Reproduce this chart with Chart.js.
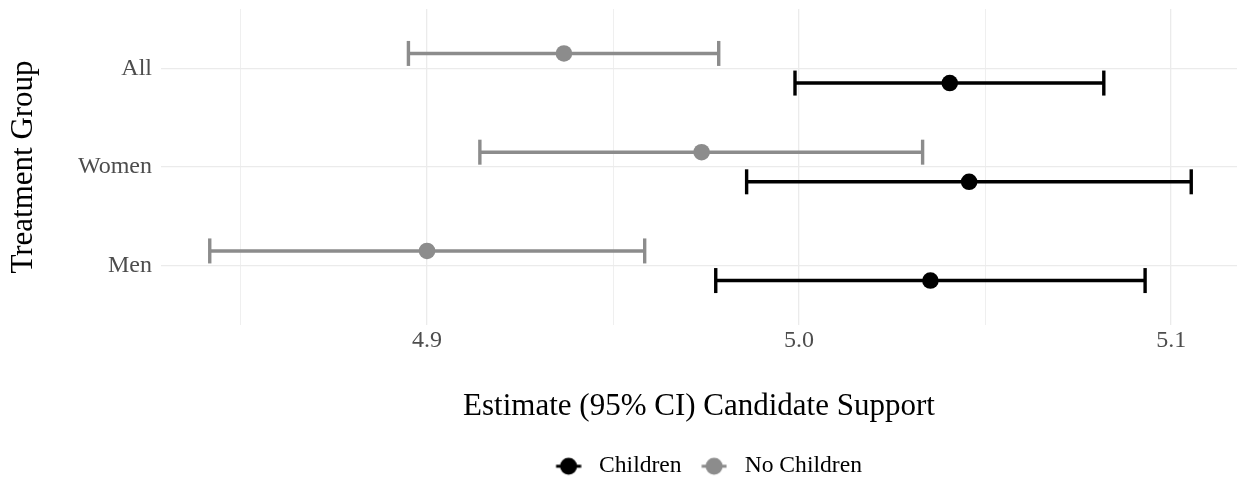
<!DOCTYPE html>
<html>
<head>
<meta charset="utf-8">
<script src="https://cdn.jsdelivr.net/npm/chart.js@4/dist/chart.umd.min.js"></script>
<style>
  html, body { margin: 0; padding: 0; background: #ffffff; }
  #wrap { width: 1239px; height: 481px; }
</style>
</head>
<body>
<div id="wrap"><canvas id="c" width="1239" height="481"></canvas></div>
<script>
// ---- data ----
const groups = ['All', 'Women', 'Men'];            // top to bottom
const seriesNames = ['Children', 'No Children'];
const childrenEst = [5.0405, 5.0457, 5.0353];
const childrenLo  = [4.9989, 4.9859, 4.9776];
const childrenHi  = [5.0819, 5.1054, 5.0930];
const noChildEst  = [4.9368, 4.9738, 4.9000];
const noChildLo   = [4.8950, 4.9142, 4.8416];
const noChildHi   = [4.9784, 5.0332, 4.9585];
const xMajorTicks = [4.9, 5.0, 5.1];
const xTickLabels = ['4.9', '5.0', '5.1'];
const xMinorTicks = [4.85, 4.95, 5.05];
const dodge = 0.15;

const BLACK = '#000000';
const GREY = '#8c8c8c';
const FONT = "'Liberation Serif', 'DejaVu Serif', serif";

function groupPos(i) { return groups.length - i; }

function pointData(est, off) {
  return est.map((v, i) => ({ x: v, y: groupPos(i) + off }));
}
function barData(lo, hi, off) {
  const out = [];
  lo.forEach((l, i) => {
    out.push({ x: l, y: groupPos(i) + off });
    out.push({ x: hi[i], y: groupPos(i) + off });
    out.push({ x: null, y: null });
  });
  return out;
}

// legend key: circle with a short line through it (offset inside the canvas)
function legendMarker(color) {
  const cv = document.createElement('canvas');
  cv.width = 40; cv.height = 20;
  const g = cv.getContext('2d');
  const cx = 26.9;
  g.strokeStyle = color; g.lineWidth = 3;
  g.beginPath(); g.moveTo(cx - 12.5, 10); g.lineTo(cx + 12.5, 10); g.stroke();
  g.fillStyle = color;
  g.beginPath(); g.arc(cx, 10, 8.5, 0, Math.PI * 2); g.fill();
  return cv;
}
const markers = [legendMarker(BLACK), legendMarker(GREY)];

function isIn(arr, v) { return arr.some(t => Math.abs(t - v) < 1e-9); }

const LW = 3.4;
const datasets = [
  { label: seriesNames[0], data: pointData(childrenEst, -dodge), backgroundColor: BLACK, borderColor: BLACK,
    pointRadius: 8.3, pointBorderWidth: 0, showLine: false, order: 0 },
  { label: seriesNames[1], data: pointData(noChildEst, dodge), backgroundColor: GREY, borderColor: GREY,
    pointRadius: 8.3, pointBorderWidth: 0, showLine: false, order: 1 },
  { label: seriesNames[0] + ' CI', data: barData(childrenLo, childrenHi, -dodge), borderColor: BLACK, backgroundColor: BLACK,
    showLine: true, spanGaps: false, borderWidth: LW, borderCapStyle: 'butt',
    pointStyle: 'line', pointRotation: 90, pointRadius: 12.5, pointBorderWidth: LW, pointBorderColor: BLACK, order: 2 },
  { label: seriesNames[1] + ' CI', data: barData(noChildLo, noChildHi, dodge), borderColor: GREY, backgroundColor: GREY,
    showLine: true, spanGaps: false, borderWidth: LW, borderCapStyle: 'butt',
    pointStyle: 'line', pointRotation: 90, pointRadius: 12.5, pointBorderWidth: LW, pointBorderColor: GREY, order: 3 }
];

const PAD_BOTTOM = -7;
const PLOT_BOTTOM = 325;
const LEG_FONT = 23.6;
const LEG_PAD = 0;
const LEG_H = LEG_FONT + LEG_PAD + 10;

new Chart(document.getElementById('c'), {
  type: 'scatter',
  data: { datasets },
  options: {
    responsive: false,
    animation: false,
    events: [],
    layout: { autoPadding: false, padding: { top: 9, right: 2, bottom: PAD_BOTTOM, left: 0 } },
    plugins: {
      tooltip: { enabled: false },
      legend: {
        position: 'bottom',
        fullSize: false,
        labels: {
          usePointStyle: true,
          pointStyleWidth: 51.2,
          padding: LEG_PAD,
          color: '#000000',
          font: { family: FONT, size: LEG_FONT },
          generateLabels: (chart) => chart.data.datasets.slice(0, 2).map((ds, i) => ({
            text: ds.label, datasetIndex: i, pointStyle: markers[i],
            fillStyle: ds.backgroundColor, strokeStyle: ds.borderColor, lineWidth: 0, hidden: false, fontColor: '#000000'
          }))
        }
      }
    },
    scales: {
      x: {
        type: 'linear',
        min: 4.8285,
        max: 5.1177,
        afterBuildTicks: (s) => {
          s.ticks = xMajorTicks.concat(xMinorTicks).sort((a, b) => a - b).map(v => ({ value: v }));
        },
        afterFit: (s) => {
          s.height = s.chart.height - PAD_BOTTOM - LEG_H - PLOT_BOTTOM;
          s.paddingLeft = 0; s.paddingRight = 0;
        },
        ticks: {
          autoSkip: false, maxRotation: 0, padding: 1.6,
          color: '#4d4d4d',
          font: { family: FONT, size: 24 },
          callback: (v) => {
            const k = xMajorTicks.findIndex(t => Math.abs(t - v) < 1e-9);
            return k >= 0 ? xTickLabels[k] : '';
          }
        },
        grid: {
          drawTicks: false,
          color: '#ebebeb',
          lineWidth: (ctx) => (ctx.tick && isIn(xMajorTicks, ctx.tick.value)) ? 1.3 : 0.8
        },
        border: { display: false },
        title: {
          display: true,
          text: 'Estimate (95% CI) Candidate Support',
          color: '#000000',
          font: { family: FONT, size: 31, lineHeight: 1 },
          padding: { top: 0, bottom: 31.9 }
        }
      },
      y: {
        type: 'linear',
        min: 0.4,
        max: 3.6,
        afterBuildTicks: (s) => {
          s.ticks = groups.map((g, i) => ({ value: groupPos(i) })).reverse();
        },
        afterFit: (s) => {
          s.width = 161;
          s.paddingTop = 0; s.paddingBottom = 0;
        },
        ticks: {
          autoSkip: false, padding: 9,
          color: '#4d4d4d',
          font: { family: FONT, size: 24 },
          callback: (v) => {
            const i = groups.length - Math.round(v);
            return groups[i] !== undefined ? groups[i] : '';
          }
        },
        grid: { drawTicks: false, color: '#ebebeb', lineWidth: 1.3 },
        border: { display: false },
        title: {
          display: true,
          text: 'Treatment Group',
          color: '#000000',
          font: { family: FONT, size: 31, lineHeight: 1 },
          padding: { top: 8.5, bottom: 0 }
        }
      }
    }
  }
});
</script>
</body>
</html>
